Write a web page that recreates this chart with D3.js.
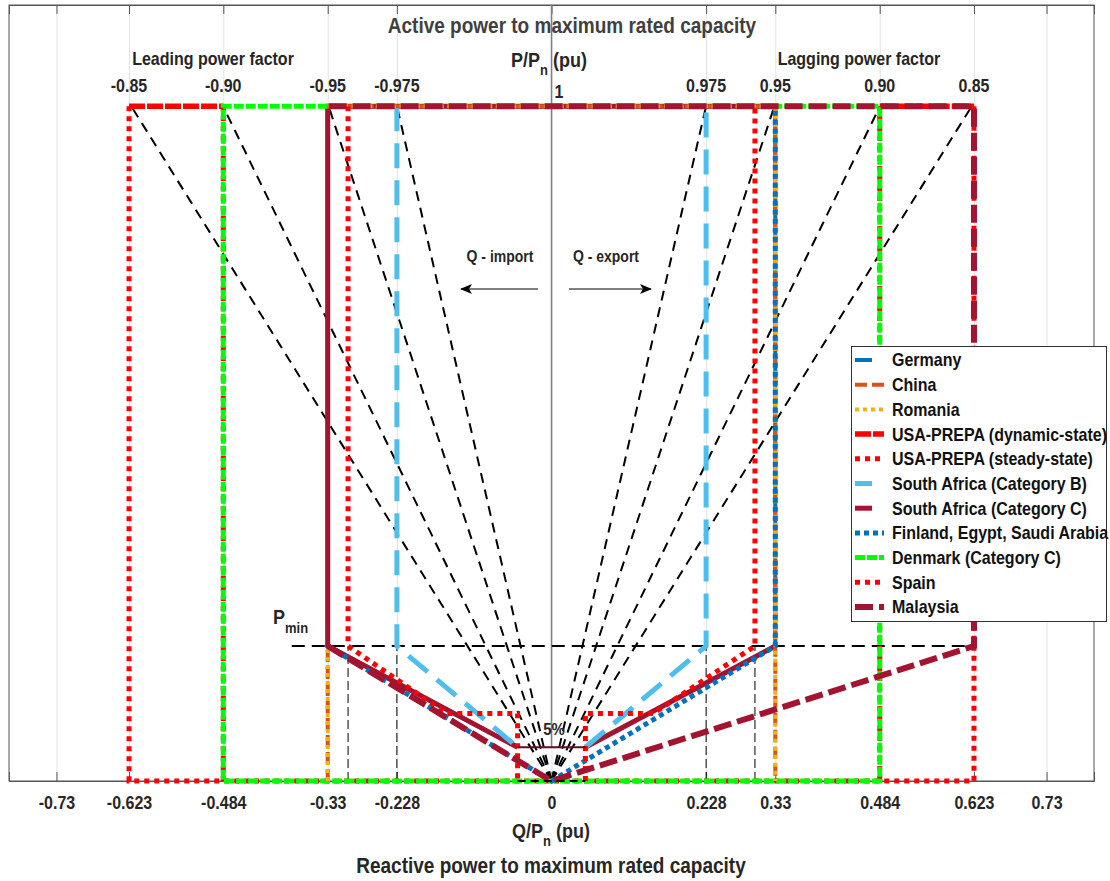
<!DOCTYPE html>
<html><head><meta charset="utf-8">
<script src="https://cdn.jsdelivr.net/npm/d3@7"></script>
<style>
body{margin:0;background:#fff;}
svg text{font-family:"Liberation Sans",Arial,Helvetica,sans-serif;font-weight:bold;fill:#262626;}
</style></head><body>
<svg id="chart" width="1110" height="881"></svg>
<script>
// ---------- data ----------
const qTicks = [-0.73,-0.623,-0.484,-0.33,-0.228,0,0.228,0.33,0.484,0.623,0.73];
const qTickLabels = ["-0.73","-0.623","-0.484","-0.33","-0.228","0","0.228","0.33","0.484","0.623","0.73"];
const pfTopLabels = ["-0.85","-0.90","-0.95","-0.975","1","0.975","0.95","0.90","0.85"];
const pfTopQ = [-0.623,-0.484,-0.33,-0.228,0,0.228,0.33,0.484,0.623];
const pfLineQ = [-0.6197,-0.4843,-0.3287,-0.2279,0.2279,0.3287,0.4843,0.6197];
const pMin = 0.2;
const pMinRange = [-0.383,0.623];
const dropQ = [-0.3,-0.228,0.228,0.3];
const fivePctTop = [[-0.05,0.05],[0.05,0.05]];
const fivePctBottom = [[-0.05,0],[0.05,0]];

const germany   = [[[-0.05,0.05],[-0.33,0.2],[-0.33,1],[0.33,1],[0.33,0.2]]];
const china     = [[[-0.33,0],[-0.33,0.2]],[[-0.33,1],[0.33,1],[0.33,0]]];
const romania   = [[[-0.33,0],[-0.33,0.2]],[[-0.33,1],[0.33,1],[0.33,0]]];
const usaDynamic= [[[-0.623,1],[-0.484,1]],[[0.484,1],[0.623,1]]];
const usaSteady = [[[-0.623,1],[-0.623,0],[0.623,0],[0.623,1]],[[-0.484,0],[-0.484,1]],[[0.484,0],[0.484,1]]];
const saB       = [[[-0.228,1],[-0.228,0.2],[-0.05,0.05]],[[0.05,0.05],[0.228,0.2],[0.228,1]]];
const saC       = [[[-0.05,0.05],[-0.33,0.2],[-0.33,1],[0.33,1]],[[0.05,0.05],[0.33,0.2]]];
const finland   = [[[-0.33,0.2],[0,0],[0.33,0.2],[0.33,1]]];
const denmark   = [[[-0.33,1],[-0.484,1],[-0.484,0],[0.484,0],[0.484,1],[0.33,1]]];
const spain     = [[[-0.3,1],[-0.3,0.2],[-0.155,0.1],[-0.05,0.1],[-0.05,0]],[[0.05,0],[0.05,0.1],[0.15,0.1],[0.3,0.2],[0.3,1]]];
const malaysia  = [[[-0.33,0.2],[0,0],[0.623,0.2],[0.623,1],[-0.33,1]]];

const legendNames = ["Germany","China","Romania","USA-PREPA (dynamic-state)","USA-PREPA (steady-state)",
  "South Africa (Category B)","South Africa (Category C)","Finland, Egypt, Saudi Arabia","Denmark (Category C)","Spain","Malaysia"];

// ---------- styles ----------
const styles = {
  "Germany":{c:"#0072BD",w:4,d:null,seg:germany,len:17},
  "China":{c:"#D95319",w:4,d:"12,5",seg:china,len:29},
  "Romania":{c:"#EDB120",w:4,d:"4,4",seg:romania,len:29},
  "USA-PREPA (dynamic-state)":{c:"#FF0000",w:5.5,d:"16,2",seg:usaDynamic,len:29},
  "USA-PREPA (steady-state)":{c:"#FF0000",w:5,d:"5,5",seg:usaSteady,len:29},
  "South Africa (Category B)":{c:"#4DBEEE",w:5,d:"25,12",seg:saB,len:17},
  "South Africa (Category C)":{c:"#A2142F",w:5,d:null,seg:saC,len:17},
  "Finland, Egypt, Saudi Arabia":{c:"#0072BD",w:5,d:"5,4",seg:finland,len:29},
  "Denmark (Category C)":{c:"#00FF00",w:5,d:"10,2",seg:denmark,len:29},
  "Spain":{c:"#FF0000",w:5,d:"5,5",seg:spain,len:29},
  "Malaysia":{c:"#A2142F",w:6,d:"18,6",seg:malaysia,len:29}
};
const drawOrder = ["Germany","USA-PREPA (dynamic-state)","USA-PREPA (steady-state)","South Africa (Category C)",
  "South Africa (Category B)","Denmark (Category C)","China","Romania","Finland, Egypt, Saudi Arabia","Spain","Malaysia"];

// ---------- scales ----------
const svg = d3.select("#chart");
const x = d3.scaleLinear().domain([-0.8,0.8]).range([9,1094]);
const y = d3.scaleLinear().domain([0,1.15]).range([781,5]);
const line = d3.line().x(d=>x(d[0])).y(d=>y(d[1]));

// gridlines
svg.append("g").attr("transform","translate(0,781)")
  .call(d3.axisBottom(x).tickValues(qTicks).tickSize(-776).tickFormat(""))
  .call(g=>{g.select(".domain").remove();g.selectAll("line").attr("stroke","#e3e3e3");});

// box
svg.append("rect").attr("x",x(-0.8)).attr("y",y(1.15)).attr("width",x(0.8)-x(-0.8)).attr("height",y(0)-y(1.15))
  .attr("fill","none").attr("stroke","#555").attr("stroke-width",1);

// bottom axis (ticks inward + labels)
const bAx = svg.append("g").attr("transform","translate(0,781)")
  .call(d3.axisBottom(x).tickValues(qTicks).tickSize(-9).tickPadding(15).tickFormat((d,i)=>qTickLabels[i]));
bAx.select(".domain").attr("stroke","#555");
bAx.selectAll("line").attr("stroke","#555");
bAx.selectAll("text").attr("font-size",16).attr("font-family",null).style("fill","#262626");
// top axis ticks
const tAx = svg.append("g").attr("transform","translate(0,5)")
  .call(d3.axisTop(x).tickValues(qTicks).tickSize(-9).tickFormat(""));
tAx.select(".domain").attr("stroke","#555");
tAx.selectAll("line").attr("stroke","#555");

// centre line
svg.append("line").attr("x1",x(0)).attr("x2",x(0)).attr("y1",y(1.15)).attr("y2",y(0.05))
  .attr("stroke","#7f7f7f").attr("stroke-width",1.5);

// reference black dashed lines (pf lines from origin)
svg.append("g").selectAll("path").data(pfLineQ).join("path")
  .attr("d",q=>line([[0,0],[q,1]])).attr("fill","none").attr("stroke","#000")
  .attr("stroke-width",2).attr("stroke-dasharray","10,7");
svg.append("g").selectAll("path").data(dropQ).join("path")
  .attr("d",q=>line([[q,0],[q,pMin]])).attr("fill","none").attr("stroke","#000")
  .attr("stroke-width",1).attr("stroke-dasharray","9,4");
svg.append("path").attr("d",line([[pMinRange[0],pMin],[pMinRange[1],pMin]]))
  .attr("fill","none").attr("stroke","#000").attr("stroke-width",2).attr("stroke-dasharray","13,7");

// series
drawOrder.forEach(name=>{
  const s = styles[name];
  svg.append("g").selectAll("path").data(s.seg).join("path")
    .attr("d",line).attr("fill","none").attr("stroke",s.c).attr("stroke-width",s.w)
    .attr("stroke-dasharray",s.d).attr("stroke-linejoin","miter").attr("stroke-linecap","butt");
});

// 5% box edges
svg.append("path").attr("d",line(fivePctTop)).attr("fill","none").attr("stroke","#5a1020").attr("stroke-width",2.2);
svg.append("path").attr("d",line(fivePctBottom)).attr("fill","none").attr("stroke","#000").attr("stroke-width",2).attr("stroke-dasharray","8,5");

// top pf labels
svg.append("g").selectAll("text").data(pfTopLabels).join("text")
  .attr("x",(d,i)=> d==="1" ? x(pfTopQ[i])+3 : x(pfTopQ[i]))
  .attr("y",d=> d==="1" ? 98 : 92)
  .attr("text-anchor",d=> d==="1" ? "start":"middle")
  .attr("font-size",16).text(d=>d);

// titles
svg.append("text").attr("x",572).attr("y",33).attr("text-anchor","middle").attr("font-size",19)
  .style("fill","#404040").text("Active power to maximum rated capacity");
const pl = svg.append("text").attr("x",549).attr("y",67).attr("text-anchor","middle").attr("font-size",18);
pl.append("tspan").text("P/P");
pl.append("tspan").attr("font-size",13).attr("dy",8).text("n");
pl.append("tspan").attr("dy",-8).text(" (pu)");
svg.append("text").attr("x",213).attr("y",65).attr("text-anchor","middle").attr("font-size",16).text("Leading power factor");
svg.append("text").attr("x",859).attr("y",65).attr("text-anchor","middle").attr("font-size",16).text("Lagging power factor");

const ql = svg.append("text").attr("x",551).attr("y",838).attr("text-anchor","middle").attr("font-size",18);
ql.append("tspan").text("Q/P");
ql.append("tspan").attr("font-size",13).attr("dy",8).text("n");
ql.append("tspan").attr("dy",-8).text(" (pu)");
svg.append("text").attr("x",551).attr("y",873).attr("text-anchor","middle").attr("font-size",19)
  .text("Reactive power to maximum rated capacity");

// Pmin label
const pm = svg.append("text").attr("x",273).attr("y",624).attr("font-size",18);
pm.append("tspan").text("P");
pm.append("tspan").attr("font-size",13).attr("dy",9).text("min");

// 5% label
svg.append("text").attr("x",554).attr("y",735).attr("text-anchor","middle").attr("font-size",15).text("5%");

// Q import/export
const defs = svg.append("defs");
defs.append("marker").attr("id","ah").attr("viewBox","0 0 12 10").attr("refX",11).attr("refY",5)
  .attr("markerWidth",12).attr("markerHeight",10).attr("markerUnits","userSpaceOnUse").attr("orient","auto")
  .append("path").attr("d","M0,0 L12,5 L0,10 L3,5 Z").attr("fill","#000");
svg.append("text").attr("x",500).attr("y",262).attr("text-anchor","middle").attr("font-size",14).text("Q - import");
svg.append("text").attr("x",606).attr("y",262).attr("text-anchor","middle").attr("font-size",14).text("Q - export");
svg.append("line").attr("x1",538).attr("y1",289).attr("x2",461).attr("y2",289).attr("stroke","#000").attr("stroke-width",1).attr("marker-end","url(#ah)");
svg.append("line").attr("x1",569).attr("y1",289).attr("x2",651).attr("y2",289).attr("stroke","#000").attr("stroke-width",1).attr("marker-end","url(#ah)");

// legend
const lg = svg.append("g");
lg.append("rect").attr("x",851.5).attr("y",346.5).attr("width",255).attr("height",275)
  .attr("fill","#fff").attr("stroke","#333").attr("stroke-width",1);
legendNames.forEach((name,i)=>{
  const s = styles[name];
  const yy = 360 + i*24.7;
  lg.append("line").attr("x1",855).attr("x2",855+s.len).attr("y1",yy).attr("y2",yy)
    .attr("stroke",s.c).attr("stroke-width",s.w).attr("stroke-dasharray",s.d);
  lg.append("text").attr("x",892).attr("y",yy+6.5).attr("font-size",16).style("fill","#111").text(name);
});

// the reference typeface is tall and narrow: enlarge glyphs, keep widths
const F = 1.13;
svg.selectAll("text, tspan").each(function(){
  const s = d3.select(this); const fs = s.attr("font-size");
  if (fs) s.attr("font-size", (+fs)*F);
});
svg.selectAll("text").each(function(){
  const t = d3.select(this); const ax = +(t.attr("x")||0);
  t.attr("transform", `translate(${ax},0) scale(${1/F},1) translate(${-ax},0)`);
});
</script>
</body></html>
